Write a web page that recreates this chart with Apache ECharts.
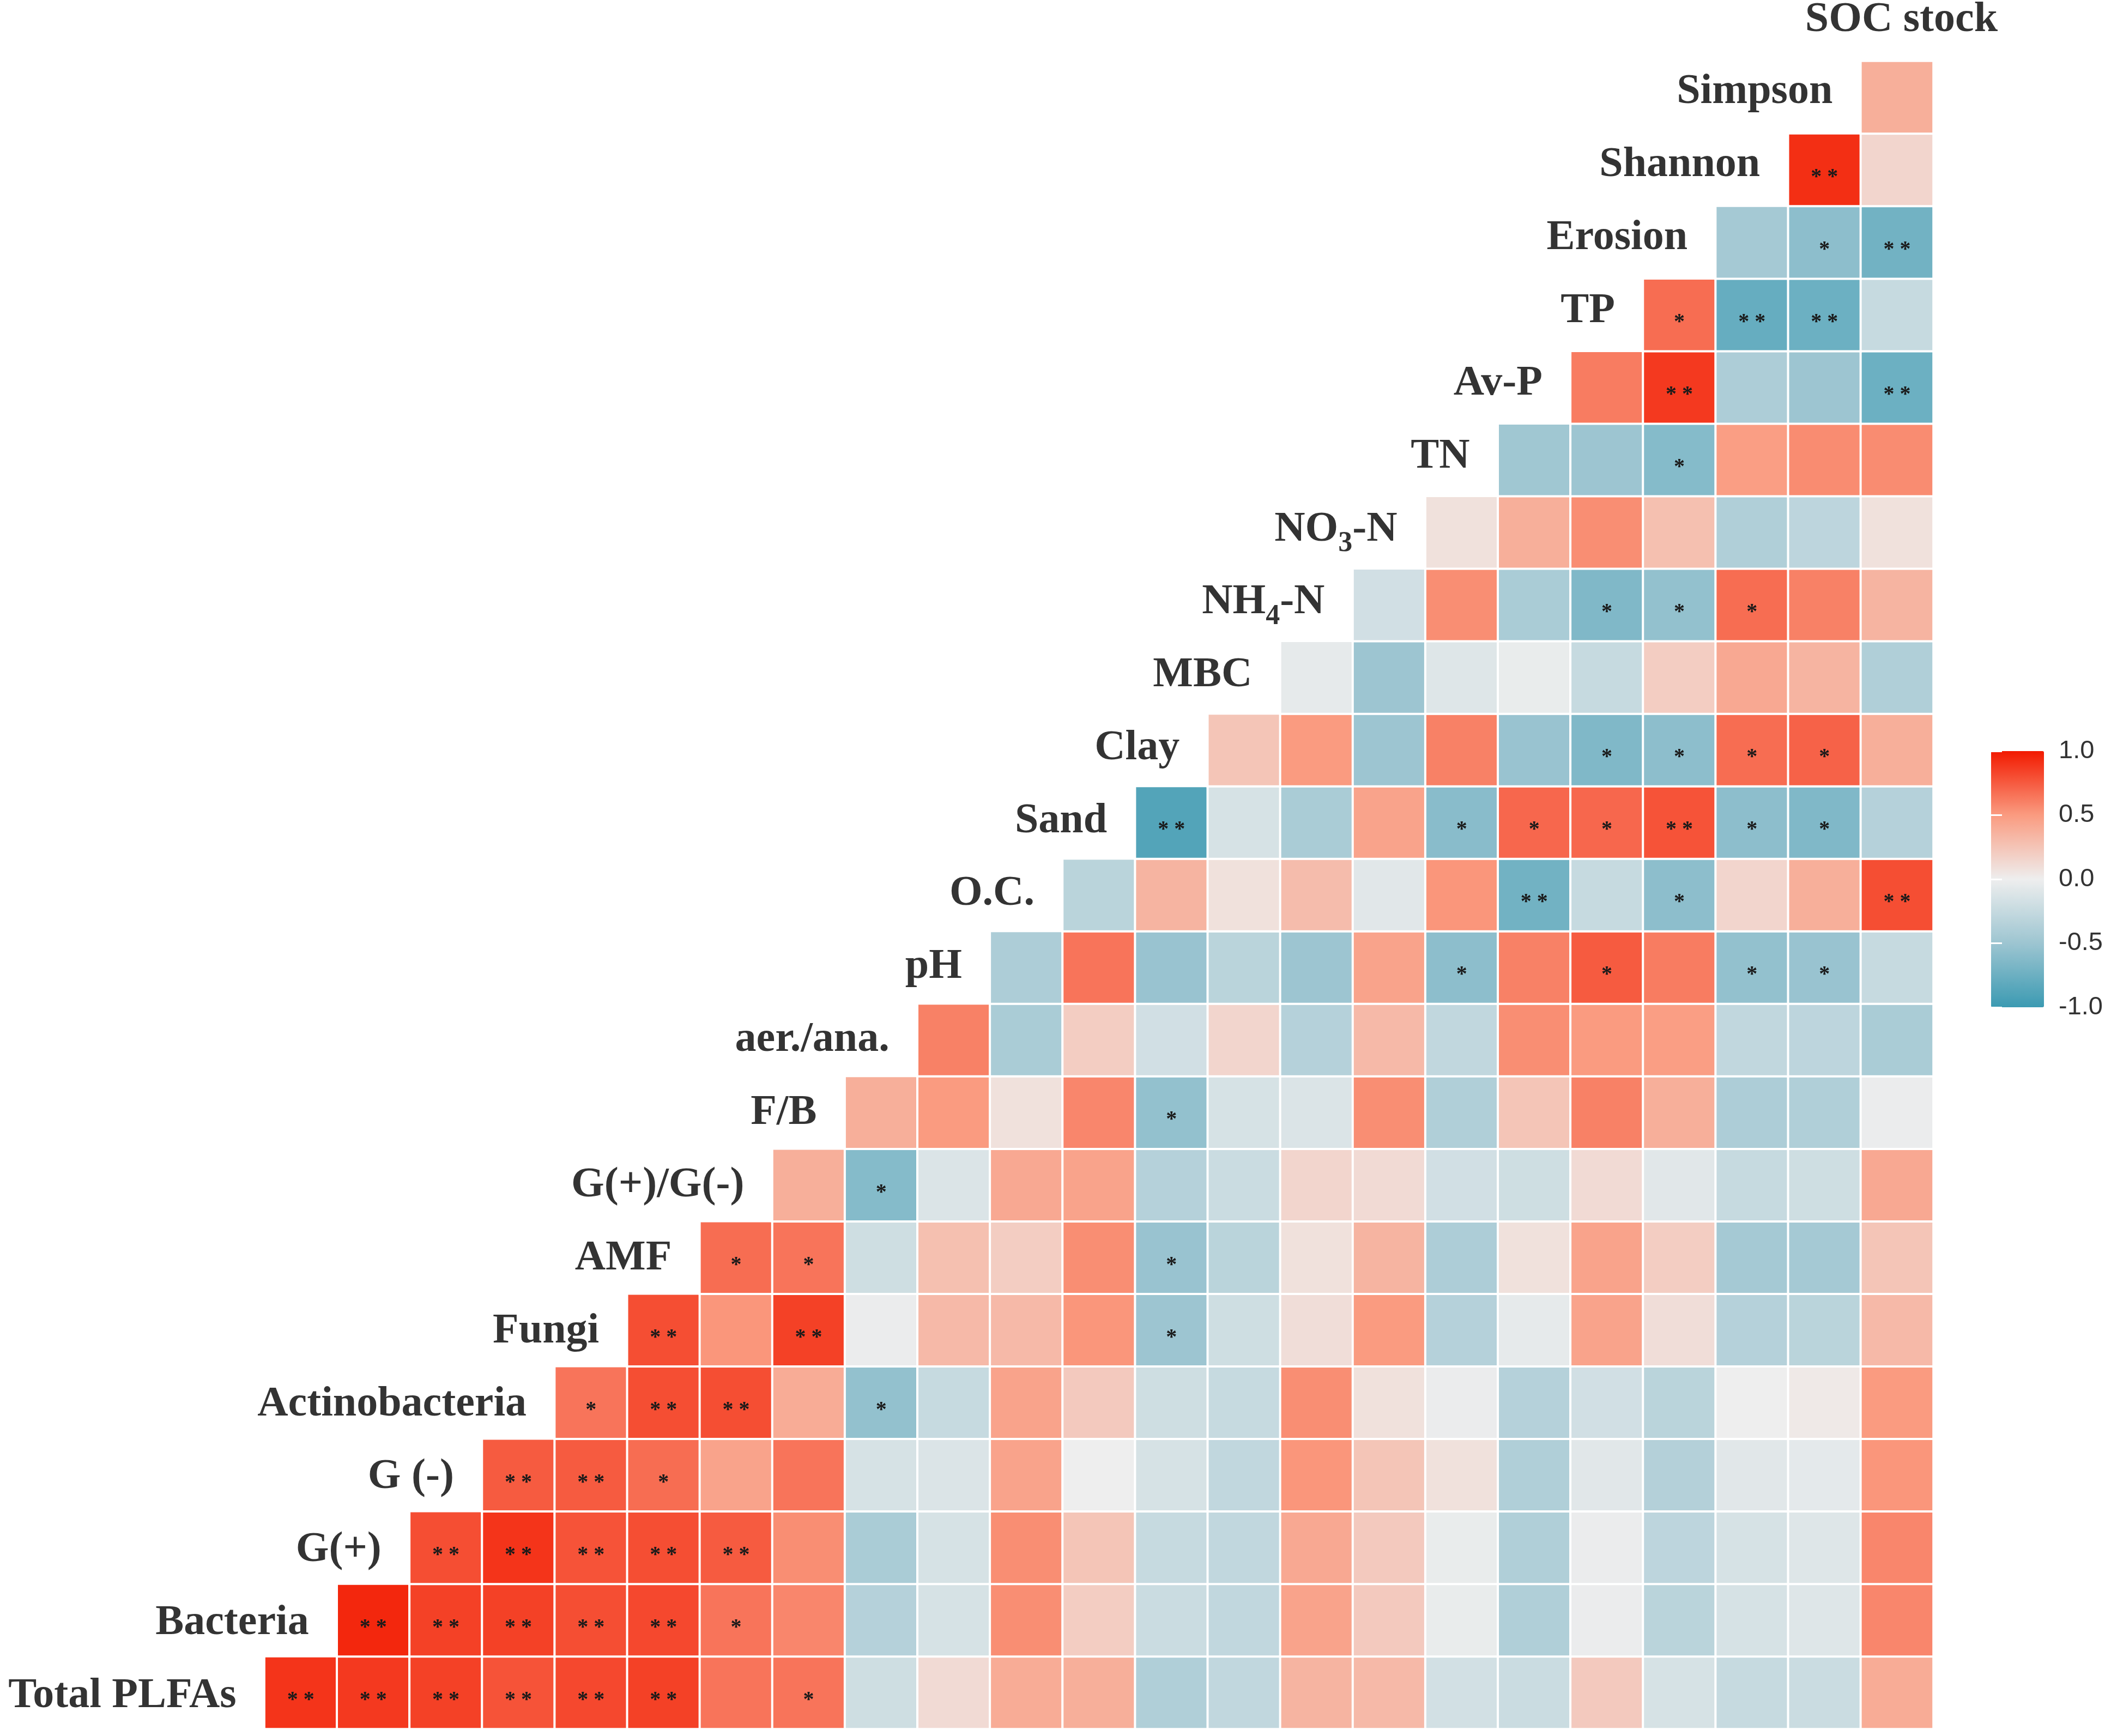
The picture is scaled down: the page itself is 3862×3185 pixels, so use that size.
<!DOCTYPE html>
<html>
<head>
<meta charset="utf-8">
<title>Correlation heatmap</title>
<script src="https://cdn.jsdelivr.net/npm/echarts@6/dist/echarts.min.js"></script>
<style>
    html, body { margin: 0; padding: 0; background: #fff; }
    #chart { width: 3862px; height: 3185px; }
</style>
</head>
<body>
<div id="chart"></div>

<script type="text/javascript">
    // variable order: rows use 0..22, columns use 1..23
    var variables = ['Total PLFAs', 'Bacteria', 'G(+)', 'G (-)', 'Actinobacteria', 'Fungi', 'AMF',
        'G(+)/G(-)', 'F/B', 'aer./ana.', 'pH', 'O.C.', 'Sand', 'Clay', 'MBC', 'NH4-N', 'NO3-N',
        'TN', 'Av-P', 'TP', 'Erosion', 'Shannon', 'Simpson', 'SOC stock'];

    // correlation of each row variable with the variables after it
    var rowTotalPLFAs = [0.90, 0.88, 0.85, 0.78, 0.82, 0.85, 0.65, 0.65, -0.20, 0.12, 0.40, 0.38, -0.38, -0.28, 0.35, 0.32, -0.17, -0.22, 0.22, -0.15, -0.25, -0.22, 0.40];
    var rowBacteria = [0.95, 0.85, 0.85, 0.80, 0.82, 0.65, 0.58, -0.35, -0.15, 0.55, 0.20, -0.22, -0.28, 0.45, 0.22, -0.03, -0.38, -0.02, -0.32, -0.15, -0.10, 0.58];
    var rowGpos = [0.80, 0.90, 0.78, 0.80, 0.75, 0.55, -0.42, -0.15, 0.55, 0.25, -0.25, -0.28, 0.42, 0.22, -0.03, -0.38, -0.02, -0.30, -0.15, -0.10, 0.58];
    var rowGneg = [0.75, 0.75, 0.68, 0.45, 0.65, -0.15, -0.12, 0.45, 0.00, -0.15, -0.28, 0.52, 0.25, 0.08, -0.38, -0.08, -0.36, -0.08, -0.06, 0.52];
    var rowActino = [0.65, 0.80, 0.80, 0.40, -0.55, -0.25, 0.45, 0.22, -0.20, -0.25, 0.55, 0.08, -0.02, -0.35, -0.18, -0.32, 0.00, 0.03, 0.50];
    var rowFungi = [0.80, 0.52, 0.85, -0.02, 0.32, 0.32, 0.52, -0.50, -0.20, 0.10, 0.50, -0.35, -0.05, 0.45, 0.10, -0.35, -0.32, 0.32];
    var rowAMF = [0.68, 0.65, -0.20, 0.28, 0.20, 0.55, -0.52, -0.32, 0.08, 0.35, -0.40, 0.08, 0.45, 0.20, -0.45, -0.45, 0.25];
    var rowGratio = [0.38, -0.62, -0.12, 0.42, 0.45, -0.35, -0.22, 0.15, 0.12, -0.18, -0.20, 0.12, -0.08, -0.25, -0.20, 0.42];
    var rowFB = [0.38, 0.50, 0.08, 0.58, -0.55, -0.15, -0.12, 0.55, -0.38, 0.25, 0.60, 0.38, -0.40, -0.38, -0.02];
    var rowAerAna = [0.60, -0.42, 0.20, -0.18, 0.15, -0.35, 0.32, -0.28, 0.55, 0.50, 0.48, -0.28, -0.30, -0.42];
    var rowPH = [-0.40, 0.65, -0.52, -0.32, -0.50, 0.45, -0.58, 0.60, 0.75, 0.62, -0.55, -0.52, -0.25];
    var rowOC = [-0.32, 0.35, 0.08, 0.30, -0.08, 0.52, -0.72, -0.25, -0.58, 0.15, 0.38, 0.80];
    var rowSand = [-0.88, -0.15, -0.42, 0.45, -0.60, 0.70, 0.70, 0.78, -0.58, -0.65, -0.35];
    var rowClay = [0.25, 0.50, -0.50, 0.60, -0.52, -0.65, -0.58, 0.68, 0.72, 0.38];
    var rowMBC = [-0.05, -0.50, -0.10, -0.03, -0.25, 0.20, 0.42, 0.35, -0.38];
    var rowNH4 = [-0.18, 0.55, -0.42, -0.65, -0.55, 0.68, 0.60, 0.35];
    var rowNO3 = [0.08, 0.38, 0.55, 0.28, -0.38, -0.30, 0.08];
    var rowTN = [-0.48, -0.50, -0.62, 0.48, 0.56, 0.56];
    var rowAvP = [0.62, 0.88, -0.40, -0.50, -0.75];
    var rowTP = [0.68, -0.78, -0.75, -0.25];
    var rowErosion = [-0.45, -0.58, -0.72];
    var rowShannon = [0.92, 0.15];
    var rowSimpson = [0.38];

    // significance: 0 none, 1 = *, 2 = **
    var sigTotalPLFAs = [2, 2, 2, 2, 2, 2, 0, 1, 0, 0, 0, 0, 0, 0, 0, 0, 0, 0, 0, 0, 0, 0, 0];
    var sigBacteria = [2, 2, 2, 2, 2, 1, 0, 0, 0, 0, 0, 0, 0, 0, 0, 0, 0, 0, 0, 0, 0, 0];
    var sigGpos = [2, 2, 2, 2, 2, 0, 0, 0, 0, 0, 0, 0, 0, 0, 0, 0, 0, 0, 0, 0, 0];
    var sigGneg = [2, 2, 1, 0, 0, 0, 0, 0, 0, 0, 0, 0, 0, 0, 0, 0, 0, 0, 0, 0];
    var sigActino = [1, 2, 2, 0, 1, 0, 0, 0, 0, 0, 0, 0, 0, 0, 0, 0, 0, 0, 0];
    var sigFungi = [2, 0, 2, 0, 0, 0, 0, 1, 0, 0, 0, 0, 0, 0, 0, 0, 0, 0];
    var sigAMF = [1, 1, 0, 0, 0, 0, 1, 0, 0, 0, 0, 0, 0, 0, 0, 0, 0];
    var sigGratio = [0, 1, 0, 0, 0, 0, 0, 0, 0, 0, 0, 0, 0, 0, 0, 0];
    var sigFB = [0, 0, 0, 0, 1, 0, 0, 0, 0, 0, 0, 0, 0, 0, 0];
    var sigAerAna = [0, 0, 0, 0, 0, 0, 0, 0, 0, 0, 0, 0, 0, 0];
    var sigPH = [0, 0, 0, 0, 0, 0, 1, 0, 1, 0, 1, 1, 0];
    var sigOC = [0, 0, 0, 0, 0, 0, 2, 0, 1, 0, 0, 2];
    var sigSand = [2, 0, 0, 0, 1, 1, 1, 2, 1, 1, 0];
    var sigClay = [0, 0, 0, 0, 0, 1, 1, 1, 1, 0];
    var sigMBC = [0, 0, 0, 0, 0, 0, 0, 0, 0];
    var sigNH4 = [0, 0, 0, 1, 1, 1, 0, 0];
    var sigNO3 = [0, 0, 0, 0, 0, 0, 0];
    var sigTN = [0, 0, 1, 0, 0, 0];
    var sigAvP = [0, 2, 0, 0, 2];
    var sigTP = [1, 2, 2, 0];
    var sigErosion = [0, 1, 2];
    var sigShannon = [2, 0];
    var sigSimpson = [0];

    var colorbarTicks = [-1, -0.5, 0, 0.5, 1];
    var colorStops = ['#3B9AB2', '#9DC5D1', '#EEEEEE', '#FA9B80', '#F21A00'];

    var corrRows = [rowTotalPLFAs, rowBacteria, rowGpos, rowGneg, rowActino, rowFungi, rowAMF, rowGratio,
        rowFB, rowAerAna, rowPH, rowOC, rowSand, rowClay, rowMBC, rowNH4, rowNO3, rowTN, rowAvP, rowTP,
        rowErosion, rowShannon, rowSimpson];
    var sigRows = [sigTotalPLFAs, sigBacteria, sigGpos, sigGneg, sigActino, sigFungi, sigAMF, sigGratio,
        sigFB, sigAerAna, sigPH, sigOC, sigSand, sigClay, sigMBC, sigNH4, sigNO3, sigTN, sigAvP, sigTP,
        sigErosion, sigShannon, sigSimpson];
    var starText = ['', '*', '* *'];

    var cells = [];
    corrRows.forEach(function (row, r) {
        row.forEach(function (v, j) {
            cells.push([r + 1 + j, r, v, sigRows[r][j]]);
        });
    });

    // variable names sit on the diagonal, the last one above its column
    var nameData = [];
    for (var i = 0; i < corrRows.length; i++) {
        nameData.push({ value: [i, i], name: variables[i], label: { offset: [15, 6 - 0.7 * i] } });
    }
    nameData.push({ value: [23, 22], name: variables[23], label: { align: 'center', offset: [8, -142] } });

    function richName(name) {
        if (name === 'NO3-N') return '{b|NO}{s|3}{b|-N}';
        if (name === 'NH4-N') return '{b|NH}{s|4}{b|-N}';
        return '{b|' + name + '}';
    }

    var tickAxis = {
        type: 'value', gridIndex: 1, min: -1, max: 1, interval: 0.5, z: 10,
        axisLine: { show: false },
        axisTick: { show: true, inside: true, length: 20, lineStyle: { color: '#fff', width: 3 } },
        splitLine: { show: false }
    };

    var myChart = echarts.init(document.getElementById('chart'));
    myChart.setOption({
        backgroundColor: '#fff',
        animation: false,
        grid: [
            { left: 352, right: 315, top: 112, bottom: 13 },
            { left: 3653, top: 1378, width: 97, height: 470 }
        ],
        xAxis: [
            { type: 'category', gridIndex: 0, data: variables, show: false },
            { type: 'value', gridIndex: 1, min: 0, max: 1, show: false }
        ],
        yAxis: [
            { type: 'category', gridIndex: 0, data: variables.slice(0, 23), show: false },
            Object.assign({}, tickAxis, {
                position: 'right',
                axisLabel: {
                    show: true, margin: 27, fontSize: 47, color: '#333', fontFamily: 'Liberation Sans',
                    customValues: colorbarTicks,
                    formatter: function (v) { return v.toFixed(1); }
                }
            }),
            Object.assign({}, tickAxis, { position: 'left', axisLabel: { show: false } })
        ],
        visualMap: {
            type: 'continuous', min: -1, max: 1, dimension: 2, seriesIndex: 0,
            calculable: false, orient: 'vertical',
            left: 3653, top: 1378, itemWidth: 97, itemHeight: 470, padding: 0,
            inRange: { color: colorStops }
        },
        series: [
            {
                type: 'heatmap',
                xAxisIndex: 0, yAxisIndex: 0,
                data: cells,
                itemStyle: { borderColor: '#fff', borderWidth: 4 },
                label: {
                    show: true,
                    formatter: function (p) { return starText[p.data[3]]; },
                    fontFamily: 'Liberation Serif', fontSize: 40, fontWeight: 'bold', color: '#1a1a1a',
                    offset: [0, 14]
                },
                emphasis: { disabled: true }
            },
            {
                type: 'scatter',
                xAxisIndex: 0, yAxisIndex: 0,
                data: nameData,
                symbolSize: 1,
                silent: true,
                itemStyle: { color: 'rgba(0,0,0,0)' },
                label: {
                    show: true,
                    position: 'inside',
                    align: 'right',
                    verticalAlign: 'middle',
                    formatter: function (p) { return richName(p.name); },
                    rich: {
                        b: { fontSize: 78, fontWeight: 'bold', fontFamily: 'Liberation Serif', color: '#000', lineHeight: 80 },
                        s: { fontSize: 52, fontWeight: 'bold', fontFamily: 'Liberation Serif', color: '#000', height: 28, lineHeight: 28, verticalAlign: 'bottom' }
                    }
                }
            }
        ]
    });

    window.onresize = function () {
        myChart.resize();
    };
</script>
</body>
</html>
